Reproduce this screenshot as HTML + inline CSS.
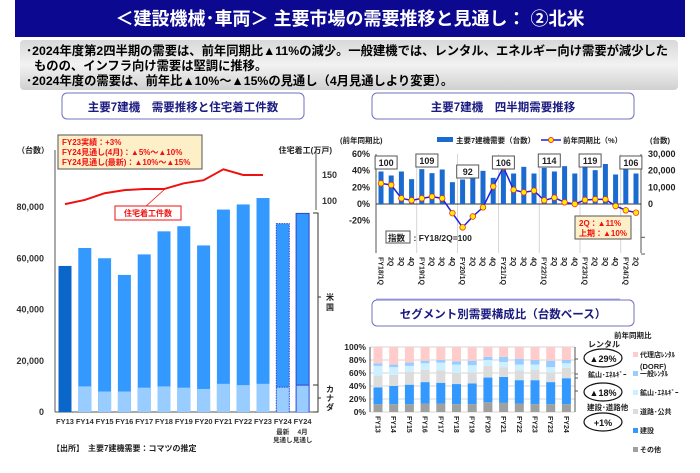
<!DOCTYPE html>
<html><head><meta charset="utf-8"><style>
html,body{margin:0;padding:0;background:#fff;}
svg{display:block;font-family:"Liberation Sans","Noto Sans CJK JP",sans-serif;}
</style></head><body>
<svg id="s" width="700" height="473" viewBox="0 0 700 473" xmlns="http://www.w3.org/2000/svg">
<defs><linearGradient id="gg" x1="0" y1="0" x2="0" y2="1"><stop offset="0" stop-color="#d8d8d8"/><stop offset="0.5" stop-color="#f2f2f2"/><stop offset="1" stop-color="#d0d0d0"/></linearGradient></defs>
<rect x="15" y="0" width="670" height="37" fill="#0c0890"/>
<text x="350" y="25" fill="#fff" font-size="18" font-weight="bold" text-anchor="middle">＜建設機械･車両＞ 主要市場の需要推移と見通し： ②北米</text>
<rect x="20" y="40" width="658" height="50" rx="4" fill="url(#gg)"/>
<g font-size="12.3" font-weight="bold" fill="#000">
<text x="26" y="55">･2024年度第2四半期の需要は、前年同期比▲11%の減少。一般建機では、レンタル、エネルギー向け需要が減少した</text>
<text x="34" y="70">ものの、インフラ向け需要は堅調に推移。</text>
<text x="26" y="85">･2024年度の需要は、前年比▲10%～▲15%の見通し（4月見通しより変更）。</text>
</g>
<rect x="62" y="93" width="242" height="26" rx="5" fill="#fff" stroke="#7070c0"/>
<text x="183" y="111" font-size="11.5" font-weight="bold" fill="#1a1a80" text-anchor="middle">主要7建機　需要推移と住宅着工件数</text>
<rect x="372" y="93" width="262" height="26" rx="5" fill="#fff" stroke="#7070c0"/>
<text x="503" y="111" font-size="11.5" font-weight="bold" fill="#1a1a80" text-anchor="middle">主要7建機　四半期需要推移</text>
<rect x="372" y="300" width="262" height="26" rx="5" fill="#fff" stroke="#7070c0"/>
<text x="503" y="318" font-size="11.5" font-weight="bold" fill="#1a1a80" text-anchor="middle">セグメント別需要構成比（台数ベース）</text>
<g id="g1"></g><g id="g2"></g><g id="g3"></g>
</svg>
<script>
// ---- Left chart data ----
const years = ["FY13","FY14","FY15","FY16","FY17","FY18","FY19","FY20","FY21","FY22","FY23","FY24","FY24"];
const totalUnits = [57000,64000,60000,53500,61500,70500,72500,65000,79000,81000,83500,73500,77500];
const canadaUnits = [0,10000,8000,8000,9500,10000,9500,9000,11000,10500,11000,9700,10500];
const housingStarts = [94,102,115,121,123,123,134,140,161,150,150];
const leftTicks = [0,20000,40000,60000,80000];
const housingTicks = [100,150];
// ---- Quarterly data ----
const quarters = ["FY18/1Q","2Q","3Q","4Q","FY19/1Q","2Q","3Q","4Q","FY20/1Q","2Q","3Q","4Q","FY21/1Q","2Q","3Q","4Q","FY22/1Q","2Q","3Q","4Q","FY23/1Q","2Q","3Q","4Q","FY24/1Q","2Q"];
const qUnits = [19500,17100,19500,14900,20900,18500,20700,13100,14700,15500,19900,15700,21100,18300,22300,18300,21700,19500,22700,18300,23000,20300,24000,17700,20900,18300];
const qYoY = [24.8,22.8,6.8,4.4,6.8,8.8,6.8,-11,-28,-15,-4,21,44,17,14,16,4.4,7.6,2,0,4.8,5.6,5.6,-2.4,-7.6,-10.4];
const indexLabels = ["100","109","92","106","114","119","106"];
const indexAt = [0.5,4.5,8.5,12,16.5,20.5,24.5];
const pctTicks = [60,40,20,0,-20];
const unitTicks = [30000,20000,10000,0];
// ---- Segment data (% shares) ----
const segYears = ["FY13","FY14","FY15","FY16","FY17","FY18","FY19","FY20","FY21","FY22","FY23","FY23","FY24"];
const segOther = [12,12,12,13,13,12,12,15,14,13,12,12,12];
const segConstruction = [26,28,30,33,32,31,32,38,40,36,37,34,40];
const segRoad = [18,17,20,19,19,17,17,18,15,15,16,15,16];
const segMining = [15,12,9,10,12,13,11,9,8,9,8,8,7];
const segRental = [4,4,5,4,4,5,7,5,8,9,7,10,5];
const segTicks = [0,20,40,60,80,100];

const NS="http://www.w3.org/2000/svg";
function mk(p,tag,at,txt){const e=document.createElementNS(NS,tag);for(const k in at)e.setAttribute(k,at[k]);if(txt!==undefined)e.textContent=txt;p.appendChild(e);return e;}

// ===== Left chart =====
(function(){
const g=document.getElementById('g1');
const y=v=>412-v*205/80000, yh=v=>201-(v-100)*26/50, x=i=>65+i*19.8;
mk(g,'line',{x1:55,y1:150,x2:55,y2:412,stroke:'#555'});
mk(g,'line',{x1:55,y1:412,x2:316,y2:412,stroke:'#555'});
mk(g,'line',{x1:316,y1:150,x2:316,y2:210,stroke:'#555'});
mk(g,'text',{x:17,y:153,'font-size':8,'font-weight':'bold',fill:'#222'},'（台数）');
mk(g,'text',{x:332,y:153,'font-size':8,'font-weight':'bold',fill:'#222','text-anchor':'end'},'住宅着工(万戸)');
leftTicks.forEach(t=>{const e=mk(g,'text',{x:44,y:y(t)+3,'font-size':9,'font-weight':'bold',fill:'#333','text-anchor':'end'},t.toLocaleString('en-US'));});
housingTicks.forEach(t=>{mk(g,'text',{x:322,y:yh(t)+3,'font-size':9,'font-weight':'bold',fill:'#333'},t);});
totalUnits.forEach((v,i)=>{
 const cx=x(i),w=13;
 const r=mk(g,'rect',{x:cx-w/2,y:y(v),width:w,height:y(0)-y(v),fill:i===0?'#0a66c8':'#3399ff',stroke:i>=11?'#3040d0':'none','stroke-dasharray':i===11?'1.5,1':'none','stroke-width':i>=11?1:0});
 
 
 if(canadaUnits[i]>0){const c=mk(g,'rect',{x:cx-w/2+(i>=11?0.5:0),y:y(canadaUnits[i]),width:w-(i>=11?1:0),height:y(0)-y(canadaUnits[i]),fill:'#99ccff'});
 
 
 if(i>=11)mk(g,'line',{x1:cx-w/2,x2:cx+w/2,y1:y(canadaUnits[i]),y2:y(canadaUnits[i]),stroke:'#3040d0','stroke-dasharray':i===11?'1.5,1':'none'});}
 const t=mk(g,'text',{x:cx,y:424,'font-size':7.5,'font-weight':'bold',fill:'#333','text-anchor':'middle'},years[i]);
 
 
});
mk(g,'text',{x:x(11),y:434,'font-size':6.5,'font-weight':'bold',fill:'#333','text-anchor':'middle'},'最新');
mk(g,'text',{x:x(11),y:442,'font-size':6.5,'font-weight':'bold',fill:'#333','text-anchor':'middle'},'見通し');
mk(g,'text',{x:x(12),y:434,'font-size':6.5,'font-weight':'bold',fill:'#333','text-anchor':'middle'},'4月');
mk(g,'text',{x:x(12),y:442,'font-size':6.5,'font-weight':'bold',fill:'#333','text-anchor':'middle'},'見通し');
const pts=housingStarts.map((v,i)=>x(i)+','+yh(v)).join(' ');
const pl=mk(g,'polyline',{points:pts,fill:'none',stroke:'#f01010','stroke-width':2});


mk(g,'line',{x1:165,y1:189,x2:145,y2:207,stroke:'#f01010','stroke-width':0.8});
mk(g,'rect',{x:115,y:206,width:66,height:14,fill:'#fff',stroke:'#f01010'});
mk(g,'text',{x:148,y:216,'font-size':8,'font-weight':'bold',fill:'#f01010','text-anchor':'middle'},'住宅着工件数');
mk(g,'rect',{x:58,y:135,width:144,height:34,fill:'#fdf0c8',stroke:'#555'});
[['FY23実績：+3%',145],['FY24見通し(4月)：▲5%～▲10%',155],['FY24見通し(最新)：▲10%～▲15%',165]].forEach(a=>mk(g,'text',{x:62,y:a[1],'font-size':8,'font-weight':'bold',fill:'#f01010'},a[0]));
mk(g,'path',{d:'M313,213 H318 V385 H313 M318,297 H321',fill:'none',stroke:'#333'});
mk(g,'path',{d:'M313,385 H318 V412 H313 M318,398 H321',fill:'none',stroke:'#333'});
mk(g,'text',{x:326,y:300,'font-size':8,'font-weight':'bold',fill:'#222'},'米');
mk(g,'text',{x:326,y:310,'font-size':8,'font-weight':'bold',fill:'#222'},'国');
['カ','ナ','ダ'].forEach((c,k)=>mk(g,'text',{x:326,y:392+k*9,'font-size':8,'font-weight':'bold',fill:'#222'},c));
mk(g,'text',{x:52,y:451,'font-size':8,'font-weight':'bold',fill:'#222'},'【出所】　主要7建機需要：コマツの推定');
})();

// ===== Quarterly chart =====
(function(){
const g=document.getElementById('g2');
const yp=v=>204-v*50/60, yu=v=>204-v*50/30000, x=i=>381+i*10.2;
for(let i=0;i<7;i++){const gx=376+i*40.8;mk(g,'line',{x1:gx,y1:154,x2:gx,y2:253,stroke:'#bbb','stroke-width':0.6});}
mk(g,'line',{x1:376,y1:154,x2:376,y2:253,stroke:'#555'});
mk(g,'line',{x1:641,y1:154,x2:641,y2:253,stroke:'#555'});
mk(g,'line',{x1:376,y1:204,x2:641,y2:204,stroke:'#333'});
[-40,-60].forEach(t=>mk(g,'line',{x1:641,x2:645,y1:yp(t),y2:yp(t),stroke:'#555'}));
pctTicks.forEach(t=>mk(g,'text',{x:370,y:yp(t)+3,'font-size':9,'font-weight':'bold',fill:'#222','text-anchor':'end'},t+'%'));
unitTicks.forEach(t=>mk(g,'text',{x:648,y:yu(t)+3,'font-size':9,'font-weight':'bold',fill:'#222'},t.toLocaleString('en-US')));
mk(g,'text',{x:340,y:143,'font-size':7.5,'font-weight':'bold',fill:'#222'},'(前年同期比)');
mk(g,'text',{x:650,y:143,'font-size':7.5,'font-weight':'bold',fill:'#222'},'(台数)');
mk(g,'rect',{x:437,y:137,width:16,height:5,fill:'#1a6ad0'});
mk(g,'text',{x:456,y:143,'font-size':7.5,'font-weight':'bold',fill:'#222'},'主要7建機需要（台数）');
mk(g,'line',{x1:541,x2:561,y1:140,y2:140,stroke:'#2020e0','stroke-width':1.5});
mk(g,'circle',{cx:551,cy:140,r:2.5,fill:'#ffee00',stroke:'#f03020'});
mk(g,'text',{x:563,y:143,'font-size':7.5,'font-weight':'bold',fill:'#222'},'前年同期比（%）');
qUnits.forEach((v,i)=>{const r=mk(g,'rect',{x:x(i)-2.5,y:yu(v),width:5,height:yu(0)-yu(v),fill:'#1a6ad0'});
 
 
 mk(g,'text',{'font-size':7,'font-weight':'bold',fill:'#222',transform:`translate(${x(i)-2.5},257) rotate(90)`},quarters[i]);
});
const pl=mk(g,'polyline',{points:qYoY.map((v,i)=>x(i)+','+yp(v)).join(' '),fill:'none',stroke:'#2020e0','stroke-width':1.5});


qYoY.forEach((v,i)=>{const c=mk(g,'circle',{cx:x(i),cy:yp(v),r:2.8,fill:'#ffee00',stroke:'#f03020','stroke-width':0.8});
 
 });
indexLabels.forEach((l,k)=>{const cx=x(indexAt[k]);const by=k===2?165:(k===0||k===3||k===6)?156:154;
 mk(g,'rect',{x:cx-11,y:by,width:22,height:13,fill:'#fff',stroke:'#555'});
 mk(g,'text',{x:cx,y:by+10,'font-size':9,'font-weight':'bold',fill:'#222','text-anchor':'middle'},l);});
mk(g,'rect',{x:386,y:231,width:24,height:12,fill:'#fff',stroke:'#555'});
mk(g,'text',{x:388,y:241,'font-size':8.5,'font-weight':'bold',fill:'#222'},'指数　:  FY18/2Q=100');
mk(g,'rect',{x:575,y:216,width:56,height:23,fill:'#fdf0c8',stroke:'#555'});
mk(g,'text',{x:579,y:226,'font-size':8,'font-weight':'bold',fill:'#f01010'},'2Q：▲11%');
mk(g,'text',{x:579,y:236,'font-size':8,'font-weight':'bold',fill:'#f01010'},'上期：▲10%');
mk(g,'line',{x1:376,x2:620,y1:299,y2:299,stroke:'#b0b0e8'});
})();

// ===== Segment chart =====
(function(){
const g=document.getElementById('g3');
const y=v=>412-v*0.65, x=i=>378+i*15.7;
segTicks.forEach(t=>{mk(g,'line',{x1:370,x2:575,y1:y(t),y2:y(t),stroke:'#aaa','stroke-width':0.6});
 mk(g,'text',{x:366,y:y(t)+3,'font-size':8.5,'font-weight':'bold',fill:'#222','text-anchor':'end'},t+'%');});
mk(g,'line',{x1:370,x2:370,y1:347,y2:412,stroke:'#555'});
mk(g,'path',{d:'M575,347 V412 M575,359 H578 M575,374 H578 M575,378 H578 M575,391 H578',fill:'none',stroke:'#555'});
const segs=[[segOther,'#a0a0a0','other'],[segConstruction,'#3399ff','construction'],[segRoad,'#dcdcdc','road-public'],[segMining,'#ccf0ff','mining-energy'],[segRental,'#99ccff','general-rental']];
segYears.forEach((yr,i)=>{let acc=0;
 segs.forEach(s=>{const v=s[0][i];const r=mk(g,'rect',{x:x(i)-4.5,y:y(acc+v),width:9,height:y(acc)-y(acc+v),fill:s[1]});
  
  acc+=v;});
 const r=mk(g,'rect',{x:x(i)-4.5,y:y(100),width:9,height:y(acc)-y(100),fill:'#ffcccc'});
 
 
 mk(g,'text',{'font-size':7,'font-weight':'bold',fill:'#222',transform:`translate(${x(i)-2.5},416) rotate(90)`},yr);
});
mk(g,'text',{x:614,y:338,'font-size':7.5,'font-weight':'bold',fill:'#222'},'前年同期比');
mk(g,'text',{x:588,y:347,'font-size':8,'font-weight':'bold',fill:'#222'},'レンタル');
mk(g,'ellipse',{cx:603,cy:358,rx:19,ry:9,fill:'#fff',stroke:'#111','stroke-width':1.2});
mk(g,'text',{x:603,y:362,'font-size':9,'font-weight':'bold',fill:'#111','text-anchor':'middle'},'▲29%');
mk(g,'text',{x:588,y:377,'font-size':7,'font-weight':'bold',fill:'#222'},'鉱山･ｴﾈﾙｷﾞｰ');
mk(g,'ellipse',{cx:603,cy:392,rx:19,ry:9,fill:'#fff',stroke:'#111','stroke-width':1.2});
mk(g,'text',{x:603,y:396,'font-size':9,'font-weight':'bold',fill:'#111','text-anchor':'middle'},'▲18%');
mk(g,'text',{x:587,y:410,'font-size':7.5,'font-weight':'bold',fill:'#222'},'建設･道路他');
mk(g,'ellipse',{cx:603,cy:422,rx:19,ry:9,fill:'#fff',stroke:'#111','stroke-width':1.2});
mk(g,'text',{x:603,y:426,'font-size':9,'font-weight':'bold',fill:'#111','text-anchor':'middle'},'+1%');
const leg=[['#ffcccc','代理店ﾚﾝﾀﾙ',357],['#99ccff','一般ﾚﾝﾀﾙ',376],['#ccf0ff','鉱山･ｴﾈﾙｷﾞｰ',395],['#dcdcdc','道路･公共',414],['#3399ff','建設',433],['#a0a0a0','その他',452]];
leg.forEach(l=>{mk(g,'rect',{x:633,y:l[2]-5,width:5,height:5,fill:l[0]});
 const t=mk(g,'text',{x:640,y:l[2],'font-size':7,'font-weight':'bold',fill:'#222'},l[1]);
 
 });
mk(g,'text',{x:640,y:369,'font-size':7.5,'font-weight':'bold',fill:'#222'},'(DORF)');
})();
</script>
</body></html>
